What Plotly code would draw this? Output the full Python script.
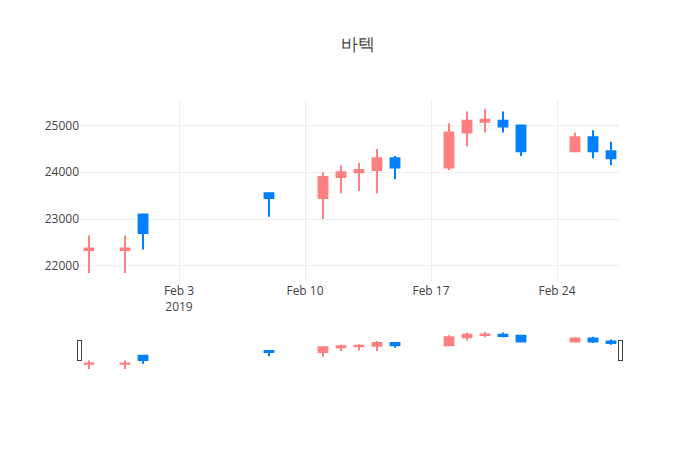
import plotly.graph_objects as go

# ── datos diarios ─────────────────────────────────────────────────────────────
fechas = ['2019-01-29', '2019-01-31', '2019-02-01', '2019-02-08',
          '2019-02-11', '2019-02-12', '2019-02-13', '2019-02-14', '2019-02-15',
          '2019-02-18', '2019-02-19', '2019-02-20', '2019-02-21', '2019-02-22',
          '2019-02-25', '2019-02-26', '2019-02-27']
apertura = [22340, 22340, 23100, 23550,
            23450, 23900, 24000, 24050, 24300,
            24100, 24850, 25080, 25100, 25000,
            24450, 24750, 24450]
maximo = [22650, 22650, 23100, 23550,
          24000, 24150, 24200, 24500, 24350,
          25050, 25300, 25350, 25300, 25000,
          24850, 24900, 24650]
minimo = [21850, 21850, 22350, 23050,
          23000, 23550, 23600, 23550, 23850,
          24050, 24550, 24850, 24850, 24350,
          24450, 24300, 24150]
cierre = [22370, 22370, 22700, 23450,
          23900, 24000, 24050, 24300, 24100,
          24850, 25100, 25120, 24980, 24450,
          24750, 24450, 24300]

fig = go.Figure(go.Candlestick(
    x=fechas,
    open=apertura, high=maximo, low=minimo, close=cierre,
    increasing=dict(line=dict(color='#ff8080'), fillcolor='#ff8080'),
    decreasing=dict(line=dict(color='#0080ff'), fillcolor='#0080ff'),
    showlegend=False,
))

# la página tiene 8px de margen en body → se compensa en los márgenes
fig.update_layout(
    template='none',
    width=700, height=450,
    title=dict(text='바텍', x=0.5, xanchor='center',
               y=1 - 36 / 450, yanchor='middle'),
    xaxis=dict(rangeslider=dict(visible=True)),
    yaxis=dict(tickformat='d'),
    margin=dict(l=72, r=88, t=92, b=88),
    paper_bgcolor='white',
    plot_bgcolor='white',
)
fig.write_html('out.html')
